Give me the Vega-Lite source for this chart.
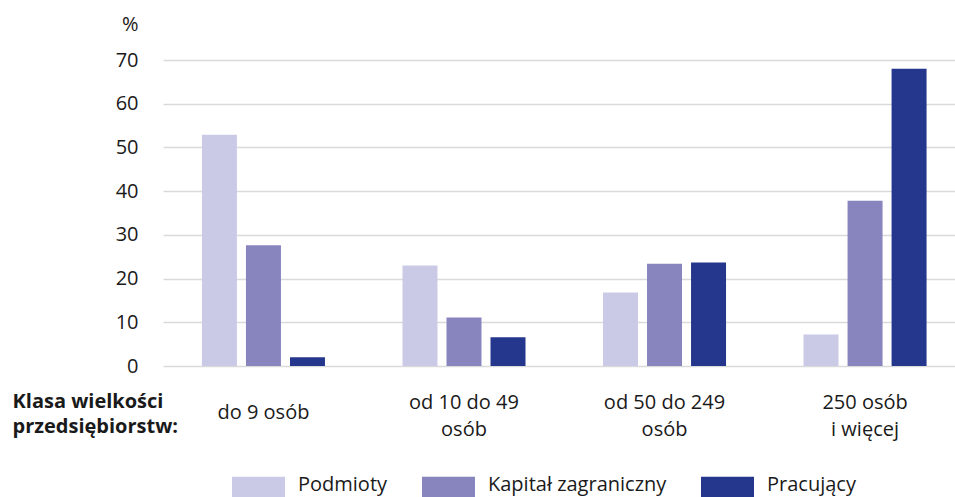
{
  "$schema": "https://vega.github.io/schema/vega-lite/v6.json",
  "autosize": {"type": "none"},
  "width": 792,
  "height": 306,
  "padding": {"left": 163, "top": 60, "right": 0, "bottom": 131},
  "background": "white",
  "config": {
    "font": "Open Sans",
    "view": {"stroke": null},
    "axis": {"labelFont": "Open Sans", "titleFont": "Open Sans", "labelColor": "#1a1a1a", "titleColor": "#1a1a1a"},
    "legend": {"labelFont": "Open Sans"}
  },
  "data": {
    "values": [
      {"klasa": "do 9 osób", "seria": "Podmioty", "wartosc": 52.9},
      {"klasa": "do 9 osób", "seria": "Kapitał zagraniczny", "wartosc": 27.6},
      {"klasa": "do 9 osób", "seria": "Pracujący", "wartosc": 2.0},
      {"klasa": "od 10 do 49|osób", "seria": "Podmioty", "wartosc": 23.0},
      {"klasa": "od 10 do 49|osób", "seria": "Kapitał zagraniczny", "wartosc": 11.1},
      {"klasa": "od 10 do 49|osób", "seria": "Pracujący", "wartosc": 6.6},
      {"klasa": "od 50 do 249|osób", "seria": "Podmioty", "wartosc": 16.8},
      {"klasa": "od 50 do 249|osób", "seria": "Kapitał zagraniczny", "wartosc": 23.4},
      {"klasa": "od 50 do 249|osób", "seria": "Pracujący", "wartosc": 23.7},
      {"klasa": "250 osób|i więcej", "seria": "Podmioty", "wartosc": 7.2},
      {"klasa": "250 osób|i więcej", "seria": "Kapitał zagraniczny", "wartosc": 37.8},
      {"klasa": "250 osób|i więcej", "seria": "Pracujący", "wartosc": 68.0}
    ]
  },
  "mark": {"type": "bar"},
  "encoding": {
    "x": {
      "field": "klasa",
      "type": "nominal",
      "sort": null,
      "scale": {"paddingInner": 0.3865, "paddingOuter": 0.168, "align": 0.578},
      "axis": {
        "title": ["Klasa wielkości", "przedsiębiorstw:"],
        "titleFontWeight": "bold",
        "titleFontSize": 20,
        "titleAlign": "left",
        "titleBaseline": "alphabetic",
        "titleAngle": 0,
        "titleX": -151,
        "titleY": 41,
        "titleLineHeight": 25,
        "labelExpr": "split(datum.label, '|')",
        "labelFontSize": 20,
        "labelLineHeight": 27,
        "labelBaseline": {"condition": {"test": "indexof(datum.value, '|') >= 0", "value": "bottom"}, "value": "middle"},
        "labelPadding": 46,
        "labelAngle": 0,
        "labelLimit": 300,
        "domain": false,
        "ticks": false,
        "tickSize": 0,
        "grid": false
      }
    },
    "xOffset": {
      "field": "seria",
      "type": "nominal",
      "sort": ["Podmioty", "Kapitał zagraniczny", "Pracujący"],
      "scale": {"paddingInner": 0.205, "paddingOuter": 0}
    },
    "y": {
      "field": "wartosc",
      "type": "quantitative",
      "scale": {"domain": [0, 70], "nice": false},
      "axis": {
        "title": "%",
        "titleAngle": 0,
        "titleAlign": "right",
        "titleBaseline": "middle",
        "titleFontWeight": "normal",
        "titleFontSize": 20,
        "titleX": -25,
        "titleY": -36,
        "values": [0, 10, 20, 30, 40, 50, 60, 70],
        "labelFontSize": 20,
        "labelPadding": 25,
        "labelBaseline": "middle",
        "domain": false,
        "ticks": false,
        "tickSize": 0,
        "grid": true,
        "gridColor": "#dadada",
        "gridWidth": 1.5
      }
    },
    "color": {
      "field": "seria",
      "type": "nominal",
      "sort": ["Podmioty", "Kapitał zagraniczny", "Pracujący"],
      "scale": {
        "domain": ["Podmioty", "Kapitał zagraniczny", "Pracujący"],
        "range": ["#cacae6", "#8884be", "#24378c"]
      },
      "legend": {
        "title": null,
        "orient": "none",
        "direction": "horizontal",
        "legendX": 69,
        "legendY": 404,
        "symbolType": "M-1,-0.53H1V0.53H-1Z",
        "symbolSize": 2809,
        "symbolStrokeWidth": 0,
        "symbolOpacity": 1,
        "labelFontSize": 20,
        "labelColor": "#1a1a1a",
        "labelBaseline": "alphabetic",
        "labelOffset": 13,
        "labelLimit": 400,
        "columnPadding": 34,
        "padding": 0
      }
    }
  }
}
